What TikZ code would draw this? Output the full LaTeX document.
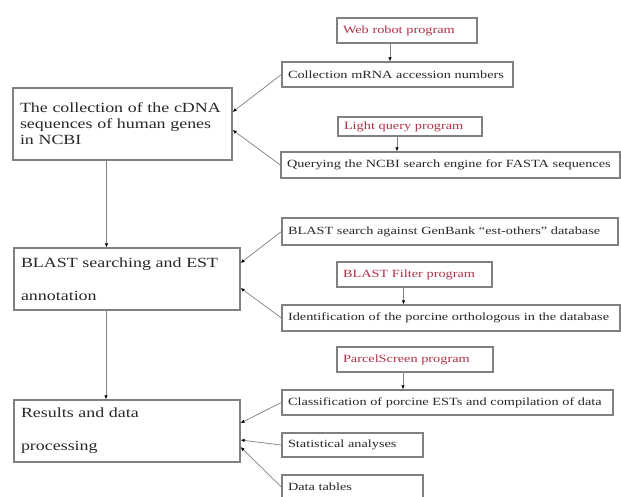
\documentclass[tikz,border=0pt]{standalone}
\usepackage{fontspec}
\setmainfont{Liberation Serif}
\newfontfamily\stagefont[FakeStretch=1.28]{Liberation Serif}
\newfontfamily\taskfont[FakeStretch=1.3]{Liberation Serif}
\usetikzlibrary{arrows.meta}
\definecolor{boxgray}{RGB}{128,128,128}
\definecolor{progred}{RGB}{176,48,72}
\definecolor{txtgray}{RGB}{40,40,40}

\tikzset{
  stage/.style={draw=boxgray, line width=1.2pt, align=left, inner xsep=7pt, inner ysep=0pt,
    text width=#1, text=txtgray, font=\stagefont\fontsize{14}{16}\selectfont},
  task/.style={draw=boxgray, line width=1.2pt, align=left, inner xsep=6pt, inner ysep=0pt,
    text width=#1, text=txtgray, minimum height=25pt, font=\taskfont\fontsize{11}{13}\selectfont},
  prog/.style={task=#1, text=progred},
  link/.style={draw=boxgray, line width=0.7pt, -{Latex[length=4pt,width=3.5pt,color=black]}}
}

\begin{document}
\begin{tikzpicture}[x=1pt, y=-1pt]
  \useasboundingbox[fill=white] (0,0) rectangle (621,497);

  % main stages
  \node[stage=205pt, minimum height=72pt] (cdna) at (122.5,124)
    {The collection of the cDNA\\ sequences of human genes\\ in NCBI};
  \node[stage=212pt, minimum height=62pt] (blast) at (127,279)
    {BLAST searching and EST\\[17pt] annotation};
  \node[stage=212pt, minimum height=62pt] (results) at (127,431)
    {Results and data\\[17pt] processing};

  % steps of stage 1
  \node[prog=128pt] (webrobot) at (407,30.5) {Web robot program};
  \node[task=219pt] (mrna) at (397.5,74.5) {Collection mRNA accession numbers};
  \node[prog=132pt, minimum height=19pt] (lightq) at (410,126.5) {Light query program};
  \node[task=327pt, minimum height=26pt] (fasta) at (450.5,165)
    {Querying the NCBI search engine for FASTA sequences};

  % steps of stage 2
  \node[task=324pt, minimum height=27pt] (estsearch) at (450,231.5)
    {BLAST search against GenBank “est-others” database};
  \node[prog=143pt] (filter) at (414.5,274.5) {BLAST Filter program};
  \node[task=326pt, minimum height=26pt] (ortho) at (451,318)
    {Identification of the porcine orthologous in the database};

  % steps of stage 3
  \node[prog=144pt] (screen) at (415,359.5) {ParcelScreen program};
  \node[task=319pt] (classify) at (447.5,402.5)
    {Classification of porcine ESTs and compilation of data};
  \node[task=129pt, minimum height=24pt] (stats) at (352.5,445) {Statistical analyses};
  \node[task=129pt, minimum height=24pt] (tables) at (352.5,487) {Data tables};

  % flow between stages
  \draw[link] ([xshift=-16pt]cdna.south) -- ([xshift=-16pt]cdna.south |- blast.north);
  \draw[link] ([xshift=-21pt]blast.south) -- ([xshift=-21pt]blast.south |- results.north);

  % programs
  \draw[link] ([xshift=-17pt]webrobot.south) -- ([xshift=-17pt]webrobot.south |- mrna.north);
  \draw[link] ([xshift=-13pt]lightq.south) -- ([xshift=-13pt]lightq.south |- fasta.north);
  \draw[link] ([xshift=-11pt]filter.south) -- ([xshift=-11pt]filter.south |- ortho.north);
  \draw[link] ([xshift=-12pt]screen.south) -- ([xshift=-12pt]screen.south |- classify.north);

  % steps into stages
  \draw[link] (mrna.west) -- ([yshift=12pt]cdna.east);
  \draw[link] (fasta.west) -- ([yshift=-6pt]cdna.east);
  \draw[link] (estsearch.west) -- ([yshift=16pt]blast.east);
  \draw[link] (ortho.west) -- ([yshift=-9pt]blast.east);
  \draw[link] (classify.west) -- ([yshift=8pt]results.east);
  \draw[link] (stats.west) -- ([yshift=-9pt]results.east);
  \draw[link] (tables.west) -- ([yshift=-16pt]results.east);
\end{tikzpicture}
\end{document}
